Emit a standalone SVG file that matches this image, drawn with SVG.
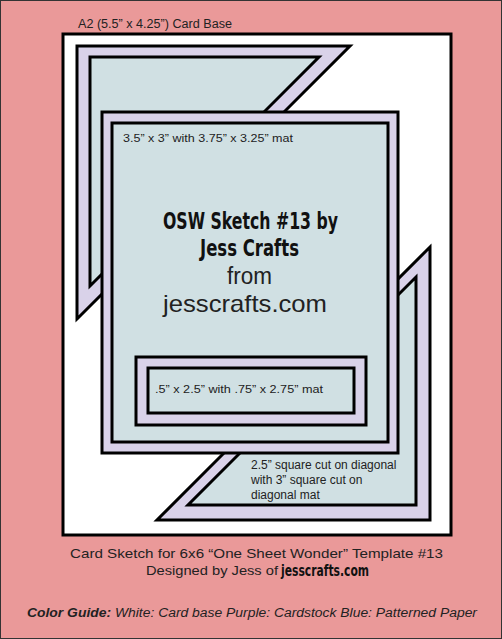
<svg xmlns="http://www.w3.org/2000/svg" width="502" height="639" viewBox="0 0 502 639">
<style>
.ln{stroke:#000;stroke-width:3;stroke-linejoin:miter}
.wh{fill:#fff}
.pu{fill:#d9d2e9}
.bl{fill:#d0e0e3}
.t{font-family:"Liberation Sans",Arial,sans-serif;fill:#222}
.c{font-family:"DejaVu Sans Condensed","Liberation Sans Narrow",sans-serif;font-weight:bold;fill:#111}
</style>
<rect x="0.5" y="0.5" width="501" height="638" fill="#ea9999" stroke="#333" stroke-width="1"/>
<g id="card-base">
<rect class="ln wh" x="63" y="34" width="388" height="501"/>
<text class="t" x="78" y="28" font-size="12" textLength="154" lengthAdjust="spacingAndGlyphs">A2 (5.5” x 4.25”) Card Base</text>
</g>
<g id="triangle-top-left">
<polygon class="ln pu" points="77,46 350,46 77,319"/>
<polygon class="ln bl" points="90,57 319,57 90,286"/>
</g>
<g id="triangle-bottom-right">
<polygon class="ln pu" points="430,247 430,520 157,520"/>
<polygon class="ln bl" points="416,277 416,505 188,505"/>
<text class="t" font-size="12"><tspan x="251" y="469">2.5” square cut on diagonal</tspan><tspan x="251" y="484">with 3” square cut on</tspan><tspan x="251" y="499">diagonal mat</tspan></text>
</g>
<g id="main-panel">
<rect class="ln pu" x="102" y="112" width="296" height="341"/>
<rect class="ln bl" x="112" y="123" width="276" height="319"/>
<text class="t" x="123" y="142" font-size="11.5" textLength="170" lengthAdjust="spacingAndGlyphs">3.5” x 3” with 3.75” x 3.25” mat</text>
<text class="c" x="250.5" y="229" font-size="23" text-anchor="middle" textLength="175" lengthAdjust="spacingAndGlyphs">OSW Sketch #13 by</text>
<text class="c" x="249.5" y="256" font-size="23" text-anchor="middle" textLength="99" lengthAdjust="spacingAndGlyphs">Jess Crafts</text>
<text class="t" x="249.5" y="284" font-size="23" text-anchor="middle" fill="#111" textLength="45" lengthAdjust="spacingAndGlyphs">from</text>
<text class="t" x="245" y="312" font-size="24" text-anchor="middle" textLength="164" lengthAdjust="spacingAndGlyphs">jesscrafts.com</text>
</g>
<g id="small-panel">
<rect class="ln pu" x="136" y="357" width="230" height="68"/>
<rect class="ln bl" x="148" y="368" width="206" height="45"/>
<text class="t" x="155" y="393" font-size="11.5" textLength="168" lengthAdjust="spacingAndGlyphs">.5” x 2.5” with .75” x 2.75” mat</text>
</g>
<g id="captions">
<text class="t" x="256.5" y="558" font-size="13" text-anchor="middle" textLength="373" lengthAdjust="spacingAndGlyphs">Card Sketch for 6x6 “One Sheet Wonder” Template #13</text>
<text class="t" x="146" y="575" font-size="13" textLength="132" lengthAdjust="spacingAndGlyphs">Designed by Jess of</text>
<text class="c" x="281" y="576" font-size="15.5" textLength="88" lengthAdjust="spacingAndGlyphs">jesscrafts.com</text>
<text class="t" x="27" y="617" font-size="12.5" font-style="italic" textLength="450" lengthAdjust="spacingAndGlyphs"><tspan font-weight="bold">Color Guide:</tspan> White: Card base Purple: Cardstock Blue: Patterned Paper</text>
</g>
</svg>
